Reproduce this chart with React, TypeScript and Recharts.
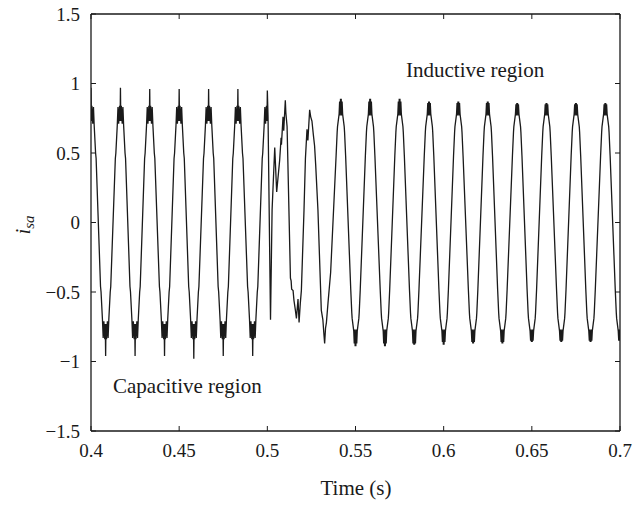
import React from 'react';
import { LineChart, Line, XAxis, YAxis, Customized } from 'recharts';

// Time axis ticks (s) and current axis ticks
const xTicks = [0.4, 0.45, 0.5, 0.55, 0.6, 0.65, 0.7];
const yTicks = [-1.5, -1, -0.5, 0, 0.5, 1, 1.5];

// [time (s), i_sa] samples – capacitive region (0.4 – 0.5 s)
const capacitiveSamples: [number, number][] = [
  [0.4000,0.97],[0.4002,0.73],[0.4005,0.84],[0.4010,0.71],[0.4014,0.83],[0.4018,0.70],[0.4026,0.50],[0.4029,0.46],
  [0.4054,-0.46],[0.4057,-0.50],[0.4065,-0.70],[0.4069,-0.83],[0.4073,-0.71],[0.4078,-0.84],[0.4081,-0.73],[0.4083,-0.96],[0.4085,-0.73],[0.4088,-0.84],[0.4093,-0.71],[0.4097,-0.83],[0.4101,-0.70],[0.4109,-0.50],[0.4112,-0.46],
  [0.4138,0.46],[0.4141,0.50],[0.4149,0.70],[0.4153,0.83],[0.4157,0.71],[0.4162,0.84],[0.4165,0.73],[0.4167,0.97],[0.4169,0.73],[0.4172,0.84],[0.4177,0.71],[0.4181,0.83],[0.4185,0.70],[0.4193,0.50],[0.4196,0.46],
  [0.4221,-0.46],[0.4224,-0.50],[0.4232,-0.70],[0.4236,-0.83],[0.4240,-0.71],[0.4245,-0.84],[0.4248,-0.73],[0.4250,-0.96],[0.4252,-0.73],[0.4255,-0.84],[0.4260,-0.71],[0.4264,-0.83],[0.4268,-0.70],[0.4276,-0.50],[0.4279,-0.46],
  [0.4304,0.46],[0.4307,0.50],[0.4315,0.70],[0.4319,0.83],[0.4323,0.71],[0.4328,0.84],[0.4331,0.73],[0.4333,0.96],[0.4335,0.73],[0.4338,0.84],[0.4343,0.71],[0.4347,0.83],[0.4351,0.70],[0.4359,0.50],[0.4362,0.46],
  [0.4388,-0.46],[0.4391,-0.50],[0.4399,-0.70],[0.4403,-0.83],[0.4407,-0.71],[0.4412,-0.84],[0.4415,-0.73],[0.4417,-0.96],[0.4419,-0.73],[0.4422,-0.84],[0.4427,-0.71],[0.4431,-0.83],[0.4435,-0.70],[0.4443,-0.50],[0.4446,-0.46],
  [0.4471,0.46],[0.4474,0.50],[0.4482,0.70],[0.4486,0.83],[0.4490,0.71],[0.4495,0.84],[0.4498,0.73],[0.4500,0.96],[0.4502,0.73],[0.4505,0.84],[0.4510,0.71],[0.4514,0.83],[0.4518,0.70],[0.4526,0.50],[0.4529,0.46],
  [0.4554,-0.46],[0.4557,-0.50],[0.4565,-0.70],[0.4569,-0.83],[0.4573,-0.71],[0.4578,-0.84],[0.4581,-0.73],[0.4583,-0.98],[0.4585,-0.73],[0.4588,-0.84],[0.4593,-0.71],[0.4597,-0.83],[0.4601,-0.70],[0.4609,-0.50],[0.4612,-0.46],
  [0.4638,0.46],[0.4641,0.50],[0.4649,0.70],[0.4653,0.83],[0.4657,0.71],[0.4662,0.84],[0.4665,0.73],[0.4667,0.96],[0.4669,0.73],[0.4672,0.84],[0.4677,0.71],[0.4681,0.83],[0.4685,0.70],[0.4693,0.50],[0.4696,0.46],
  [0.4721,-0.46],[0.4724,-0.50],[0.4732,-0.70],[0.4736,-0.83],[0.4740,-0.71],[0.4745,-0.84],[0.4748,-0.73],[0.4750,-0.96],[0.4752,-0.73],[0.4755,-0.84],[0.4760,-0.71],[0.4764,-0.83],[0.4768,-0.70],[0.4776,-0.50],[0.4779,-0.46],
  [0.4804,0.46],[0.4807,0.50],[0.4815,0.70],[0.4819,0.83],[0.4823,0.71],[0.4828,0.84],[0.4831,0.73],[0.4833,0.96],[0.4835,0.73],[0.4838,0.84],[0.4843,0.71],[0.4847,0.83],[0.4851,0.70],[0.4859,0.50],[0.4862,0.46],
  [0.4888,-0.46],[0.4891,-0.50],[0.4899,-0.70],[0.4903,-0.83],[0.4907,-0.71],[0.4912,-0.84],[0.4915,-0.73],[0.4917,-0.96],[0.4919,-0.73],[0.4922,-0.84],[0.4927,-0.71],[0.4931,-0.83],[0.4935,-0.70],[0.4943,-0.50],[0.4946,-0.46],
  [0.4971,0.46],[0.4974,0.50],[0.4982,0.70],[0.4986,0.83],[0.4990,0.71],[0.4995,0.84],[0.4998,0.73],[0.5000,0.95],
];

// Switching transient (0.5 – 0.536 s)
const transitionSamples: [number, number][] = [
  [0.5004,0.76],[0.5018,-0.70],[0.5027,0.09],[0.5042,0.54],[0.5053,0.22],[0.5070,0.45],[0.5078,0.61],[0.5080,0.56],
  [0.5089,0.76],[0.5093,0.66],[0.5102,0.88],[0.5105,0.79],[0.5112,0.69],[0.5131,-0.40],[0.5135,-0.42],[0.5138,-0.48],
  [0.5146,-0.49],[0.5151,-0.56],[0.5159,-0.63],[0.5165,-0.69],[0.5174,-0.55],[0.5180,-0.72],[0.5187,-0.58],[0.5193,-0.49],
  [0.5208,0.09],[0.5216,0.46],[0.5225,0.67],[0.5230,0.59],[0.5240,0.81],[0.5246,0.76],[0.5253,0.73],[0.5261,0.63],
  [0.5268,0.55],[0.5274,0.42],[0.5287,0.09],[0.5306,-0.63],[0.5315,-0.70],[0.5320,-0.79],[0.5325,-0.87],[0.5330,-0.76],
  [0.5335,-0.72],[0.5344,-0.58],[0.5359,-0.36],
];

// Inductive region (0.539 – 0.7 s)
const inductiveSamples: [number, number][] = [
  [0.5390,0.48],[0.5396,0.65],[0.5398,0.69],[0.5407,0.78],[0.5410,0.87],[0.5413,0.77],[0.5415,0.89],[0.5417,0.80],[0.5419,0.89],[0.5421,0.77],[0.5424,0.87],[0.5427,0.78],[0.5436,0.69],[0.5438,0.65],[0.5444,0.48],
  [0.5473,-0.48],[0.5479,-0.65],[0.5481,-0.69],[0.5490,-0.78],[0.5493,-0.87],[0.5496,-0.77],[0.5498,-0.89],[0.5500,-0.80],[0.5502,-0.89],[0.5504,-0.77],[0.5507,-0.87],[0.5510,-0.78],[0.5519,-0.69],[0.5521,-0.65],[0.5527,-0.48],
  [0.5556,0.48],[0.5562,0.65],[0.5564,0.69],[0.5573,0.78],[0.5576,0.87],[0.5579,0.77],[0.5581,0.89],[0.5583,0.80],[0.5585,0.89],[0.5587,0.77],[0.5590,0.87],[0.5593,0.78],[0.5602,0.69],[0.5604,0.65],[0.5610,0.48],
  [0.5640,-0.48],[0.5646,-0.65],[0.5648,-0.69],[0.5657,-0.78],[0.5660,-0.87],[0.5663,-0.77],[0.5665,-0.89],[0.5667,-0.80],[0.5669,-0.89],[0.5671,-0.77],[0.5674,-0.87],[0.5677,-0.78],[0.5686,-0.69],[0.5688,-0.65],[0.5694,-0.48],
  [0.5723,0.48],[0.5729,0.65],[0.5731,0.69],[0.5740,0.78],[0.5743,0.87],[0.5746,0.77],[0.5748,0.89],[0.5750,0.80],[0.5752,0.89],[0.5754,0.77],[0.5757,0.87],[0.5760,0.78],[0.5769,0.69],[0.5771,0.65],[0.5777,0.48],
  [0.5806,-0.48],[0.5812,-0.65],[0.5814,-0.69],[0.5823,-0.78],[0.5826,-0.87],[0.5829,-0.77],[0.5831,-0.88],[0.5833,-0.80],[0.5835,-0.88],[0.5837,-0.77],[0.5840,-0.87],[0.5843,-0.78],[0.5852,-0.69],[0.5854,-0.65],[0.5860,-0.48],
  [0.5890,0.48],[0.5896,0.65],[0.5898,0.69],[0.5907,0.78],[0.5910,0.86],[0.5913,0.77],[0.5915,0.87],[0.5917,0.80],[0.5919,0.87],[0.5921,0.77],[0.5924,0.86],[0.5927,0.78],[0.5936,0.69],[0.5938,0.65],[0.5944,0.48],
  [0.5973,-0.48],[0.5979,-0.65],[0.5981,-0.69],[0.5990,-0.78],[0.5993,-0.86],[0.5996,-0.77],[0.5998,-0.88],[0.6000,-0.80],[0.6002,-0.88],[0.6004,-0.77],[0.6007,-0.86],[0.6010,-0.78],[0.6019,-0.69],[0.6021,-0.65],[0.6027,-0.48],
  [0.6056,0.48],[0.6062,0.65],[0.6064,0.69],[0.6073,0.78],[0.6076,0.86],[0.6079,0.77],[0.6081,0.87],[0.6083,0.80],[0.6085,0.87],[0.6087,0.77],[0.6090,0.86],[0.6093,0.78],[0.6102,0.69],[0.6104,0.65],[0.6110,0.48],
  [0.6140,-0.48],[0.6146,-0.65],[0.6148,-0.69],[0.6157,-0.78],[0.6160,-0.86],[0.6163,-0.77],[0.6165,-0.87],[0.6167,-0.80],[0.6169,-0.87],[0.6171,-0.77],[0.6174,-0.86],[0.6177,-0.78],[0.6186,-0.69],[0.6188,-0.65],[0.6194,-0.48],
  [0.6223,0.48],[0.6229,0.65],[0.6231,0.69],[0.6240,0.78],[0.6243,0.86],[0.6246,0.77],[0.6248,0.87],[0.6250,0.80],[0.6252,0.87],[0.6254,0.77],[0.6257,0.86],[0.6260,0.78],[0.6269,0.69],[0.6271,0.65],[0.6277,0.48],
  [0.6306,-0.48],[0.6312,-0.65],[0.6314,-0.69],[0.6323,-0.78],[0.6326,-0.86],[0.6329,-0.77],[0.6331,-0.87],[0.6333,-0.80],[0.6335,-0.87],[0.6337,-0.77],[0.6340,-0.86],[0.6343,-0.78],[0.6352,-0.69],[0.6354,-0.65],[0.6360,-0.48],
  [0.6390,0.48],[0.6396,0.65],[0.6398,0.69],[0.6407,0.78],[0.6410,0.85],[0.6413,0.77],[0.6415,0.86],[0.6417,0.80],[0.6419,0.86],[0.6421,0.77],[0.6424,0.85],[0.6427,0.78],[0.6436,0.69],[0.6438,0.65],[0.6444,0.48],
  [0.6473,-0.48],[0.6479,-0.65],[0.6481,-0.69],[0.6490,-0.78],[0.6493,-0.85],[0.6496,-0.77],[0.6498,-0.86],[0.6500,-0.80],[0.6502,-0.86],[0.6504,-0.77],[0.6507,-0.85],[0.6510,-0.78],[0.6519,-0.69],[0.6521,-0.65],[0.6527,-0.48],
  [0.6556,0.48],[0.6562,0.65],[0.6564,0.69],[0.6573,0.78],[0.6576,0.85],[0.6579,0.77],[0.6581,0.86],[0.6583,0.80],[0.6585,0.86],[0.6587,0.77],[0.6590,0.85],[0.6593,0.78],[0.6602,0.69],[0.6604,0.65],[0.6610,0.48],
  [0.6640,-0.48],[0.6646,-0.65],[0.6648,-0.69],[0.6657,-0.78],[0.6660,-0.85],[0.6663,-0.77],[0.6665,-0.86],[0.6667,-0.80],[0.6669,-0.86],[0.6671,-0.77],[0.6674,-0.85],[0.6677,-0.78],[0.6686,-0.69],[0.6688,-0.65],[0.6694,-0.48],
  [0.6723,0.48],[0.6729,0.65],[0.6731,0.69],[0.6740,0.78],[0.6743,0.85],[0.6746,0.77],[0.6748,0.86],[0.6750,0.80],[0.6752,0.86],[0.6754,0.77],[0.6757,0.85],[0.6760,0.78],[0.6769,0.69],[0.6771,0.65],[0.6777,0.48],
  [0.6806,-0.48],[0.6812,-0.65],[0.6814,-0.69],[0.6823,-0.78],[0.6826,-0.85],[0.6829,-0.77],[0.6831,-0.86],[0.6833,-0.80],[0.6835,-0.86],[0.6837,-0.77],[0.6840,-0.85],[0.6843,-0.78],[0.6852,-0.69],[0.6854,-0.65],[0.6860,-0.48],
  [0.6890,0.48],[0.6896,0.65],[0.6898,0.69],[0.6907,0.78],[0.6910,0.85],[0.6913,0.77],[0.6915,0.86],[0.6917,0.80],[0.6919,0.86],[0.6921,0.77],[0.6924,0.85],[0.6927,0.78],[0.6936,0.69],[0.6938,0.65],[0.6944,0.48],
  [0.6973,-0.48],[0.6979,-0.65],[0.6981,-0.69],[0.6990,-0.78],[0.6993,-0.85],[0.6996,-0.77],[0.6998,-0.85],[0.7000,-0.80],
];

const data = [...capacitiveSamples, ...transitionSamples, ...inductiveSamples].map(([t, isa]) => ({ t, isa }));

const FONT = '"Liberation Serif", "Times New Roman", Times, serif';
const INK = '#1a1a1a';

const fmtY = (v: number) => (v < 0 ? '\u2212' + Math.abs(v) : String(v));
const EmptyTick = () => <g />;

const Annotations = () => (
  <g fontFamily={FONT} fill={INK}>
    <text x={406} y={77} fontSize={21}>Inductive region</text>
    <text x={113} y={393} fontSize={21}>Capacitive region</text>
    <text x={356} y={495} fontSize={21} textAnchor="middle">Time (s)</text>
    <text transform="translate(30,225) rotate(-90)" textAnchor="middle" fontSize={21} fontStyle="italic">
      i<tspan dy={4} fontSize={15}>sa</tspan>
    </text>
  </g>
);

export default function App() {
  const tickStyle = { fill: INK, fontSize: 19, fontFamily: FONT };
  return (
    <div style={{ position: 'absolute', left: 0, top: 0, width: 644, height: 507, background: '#fff' }}>
      <LineChart width={644} height={507} data={data} margin={{ top: 13, right: 23, bottom: 0, left: 0 }}>
        <XAxis
          xAxisId="bottom"
          dataKey="t"
          type="number"
          domain={[0.4, 0.7]}
          ticks={xTicks}
          allowDataOverflow
          height={76}
          tickSize={-5}
          tickMargin={18}
          tick={tickStyle}
          stroke={INK}
          axisLine={{ stroke: INK, strokeWidth: 1.3 }}
          tickLine={{ stroke: INK }}
        />
        <XAxis
          xAxisId="top"
          orientation="top"
          dataKey="t"
          type="number"
          domain={[0.4, 0.7]}
          ticks={xTicks}
          allowDataOverflow
          height={1}
          tickSize={-5}
          tick={<EmptyTick />}
          axisLine={{ stroke: INK, strokeWidth: 1.3 }}
          tickLine={{ stroke: INK }}
        />
        <YAxis
          yAxisId="left"
          type="number"
          domain={[-1.5, 1.5]}
          ticks={yTicks}
          allowDataOverflow
          width={91}
          tickSize={-5}
          tickMargin={16}
          tickFormatter={fmtY}
          tick={tickStyle}
          axisLine={{ stroke: INK, strokeWidth: 1.3 }}
          tickLine={{ stroke: INK }}
        />
        <YAxis
          yAxisId="right"
          orientation="right"
          type="number"
          domain={[-1.5, 1.5]}
          ticks={yTicks}
          allowDataOverflow
          width={1}
          tickSize={-5}
          tick={<EmptyTick />}
          axisLine={{ stroke: INK, strokeWidth: 1.3 }}
          tickLine={{ stroke: INK }}
        />
        <Line
          xAxisId="bottom"
          yAxisId="left"
          type="linear"
          dataKey="isa"
          stroke={INK}
          strokeWidth={1.3}
          dot={false}
          activeDot={false}
          isAnimationActive={false}
        />
        <Customized component={Annotations} />
      </LineChart>
    </div>
  );
}
